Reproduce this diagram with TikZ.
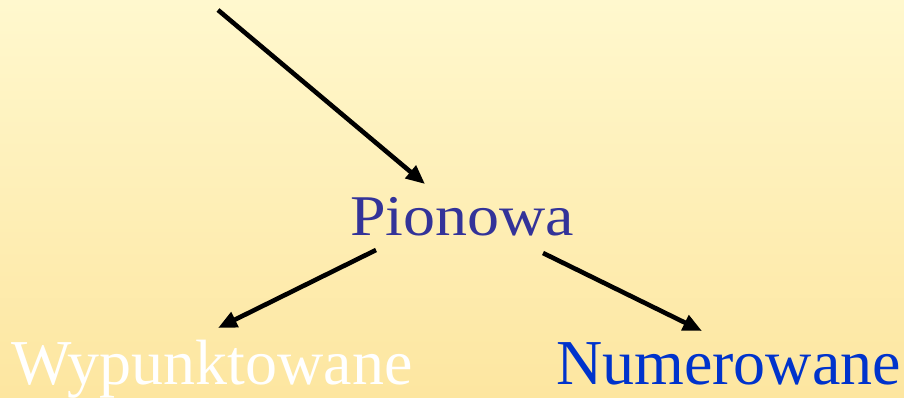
\documentclass[tikz,border=0pt]{standalone}
\usepackage{fontspec}
\setmainfont{Liberation Serif}
\usetikzlibrary{arrows.meta}
\definecolor{bgtop}{RGB}{255,248,206}
\definecolor{bgbot}{RGB}{253,230,160}
\definecolor{pioncol}{RGB}{51,51,153}
\definecolor{numcol}{RGB}{0,51,204}
\tikzset{
  lbl/.style={inner sep=0pt, anchor=base west, font=\fontsize{64}{70}\selectfont},
  conn/.style={line width=4.6pt, -{Triangle[length=19pt,width=16pt]}}
}
\begin{document}
\begin{tikzpicture}[x=1pt,y=-1pt]
\shade[top color=bgtop, bottom color=bgbot] (0,0) rectangle (904,397);
\useasboundingbox (0,0) rectangle (904,397);
\node[lbl, text=pioncol] (pion) at (350,235) {\scalebox{1}[0.9]{Pionowa}};
\node[lbl, text=white] (wyp) at (11,384) {Wypunktowane};
\node[lbl, text=numcol] (num) at (556,384) {Numerowane};
\coordinate (src) at (218,10);
\coordinate (pin) at (425,184);
\coordinate (pl) at (376,250);
\coordinate (wtip) at (218,328);
\coordinate (pr) at (543,253);
\coordinate (ntip) at (702,331);
\draw[conn] (src) -- (pin);
\draw[conn] (pl) -- (wtip);
\draw[conn] (pr) -- (ntip);
\end{tikzpicture}
\end{document}
